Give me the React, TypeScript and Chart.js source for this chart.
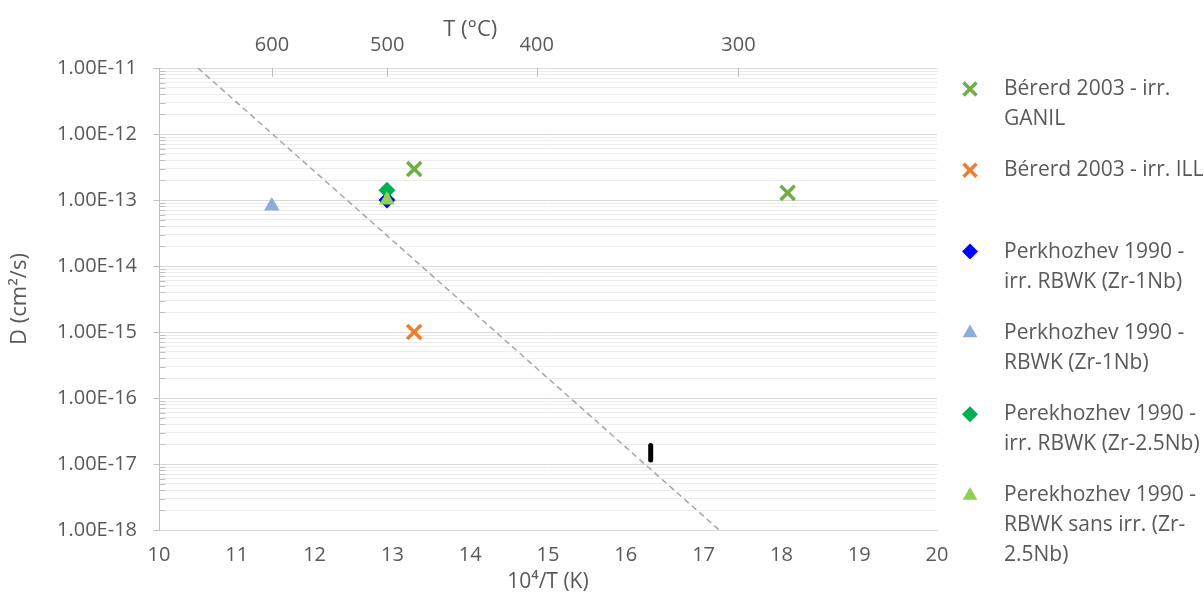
import React, { useEffect, useRef } from 'react';
import { Chart, registerables } from 'chart.js';

Chart.register(...registerables);

const FONT = '"Open Sans", "DejaVu Sans", sans-serif';
const TEXT = '#595959';

// x = 10^4/T (K^-1), y = D (cm²/s)
const ganilX = [13.28, 18.08];
const ganilY = [2.95e-13, 1.28e-13];
const illX = [13.28];
const illY = [1.0e-15];
const perkIrr1NbX = [12.93];
const perkIrr1NbY = [1.0e-13];
const perk1NbX = [11.45];
const perk1NbY = [8.1e-14];
const perekIrr25NbX = [12.93];
const perekIrr25NbY = [1.4e-13];
const perek25NbX = [12.93];
const perek25NbY = [1.0e-13];
const guideX = [10.5, 17.2];
const guideY = [1e-11, 1e-18];
const barX = [16.32, 16.32];
const barY = [1.15e-17, 1.9e-17];

const xTicks = [10, 11, 12, 13, 14, 15, 16, 17, 18, 19, 20];
const topTicksC = [600, 500, 400, 300];
const yDecades = [-18, -17, -16, -15, -14, -13, -12, -11];
const yTickLabels = ['1.00E-18', '1.00E-17', '1.00E-16', '1.00E-15', '1.00E-14', '1.00E-13', '1.00E-12', '1.00E-11'];

const legendItems = [
  { lines: ['Bérerd 2003 - irr.', 'GANIL'], style: 'cross', color: '#70AD47' },
  { lines: ['Bérerd 2003 - irr. ILL'], style: 'cross', color: '#ED7D31' },
  { lines: ['Perkhozhev 1990 -', 'irr. RBWK (Zr-1Nb)'], style: 'diamond', color: '#0000FF' },
  { lines: ['Perkhozhev 1990 -', 'RBWK (Zr-1Nb)'], style: 'triangle', color: '#8FAADC' },
  { lines: ['Perekhozhev 1990 -', 'irr. RBWK (Zr-2.5Nb)'], style: 'diamond', color: '#00B050' },
  { lines: ['Perekhozhev 1990 -', 'RBWK sans irr. (Zr-', '2.5Nb)'], style: 'triangle', color: '#92D050' },
];

const pts = (xs: number[], ys: number[]) => xs.map((x, i) => ({ x, y: ys[i] }));
const isMajor = (v: number) => {
  const e = Math.log10(v);
  return Math.abs(e - Math.round(e)) < 1e-6;
};

const extrasPlugin = {
  id: 'extras',
  afterDraw(chart: any) {
    const { ctx, chartArea, scales } = chart;
    ctx.save();
    // top axis tick marks (pointing into the plot)
    ctx.strokeStyle = '#BFBFBF';
    ctx.lineWidth = 1;
    scales.xTop.ticks.forEach((t: any) => {
      const px = Math.round(scales.xTop.getPixelForValue(t.value)) + 0.5;
      ctx.beginPath();
      ctx.moveTo(px, chartArea.top);
      ctx.lineTo(px, chartArea.top + 9);
      ctx.stroke();
    });
    // y axis tick marks
    const ax = Math.round(chartArea.left) + 0.5;
    scales.y.ticks.forEach((t: any) => {
      const py = Math.round(scales.y.getPixelForValue(t.value)) + 0.5;
      ctx.beginPath();
      if (isMajor(t.value)) {
        ctx.moveTo(ax - 6, py);
        ctx.lineTo(ax, py);
      } else {
        ctx.moveTo(ax, py);
        ctx.lineTo(ax + 6, py);
      }
      ctx.stroke();
    });
    // top axis title
    ctx.fillStyle = TEXT;
    ctx.font = `22px ${FONT}`;
    ctx.textAlign = 'center';
    ctx.textBaseline = 'middle';
    ctx.fillText('T (°C)', chartArea.left + 0.4 * (chartArea.right - chartArea.left), 30);

    // legend
    const mx = 970;
    const tx = 1004;
    const y0 = 89;
    const step = 81.3;
    const lh = 30;
    legendItems.forEach((it, i) => {
      const y = y0 + i * step;
      ctx.fillStyle = it.color;
      ctx.strokeStyle = it.color;
      if (it.style === 'cross') {
        const r = 6.5;
        ctx.lineWidth = 3.5;
        ctx.beginPath();
        ctx.moveTo(mx - r, y - r);
        ctx.lineTo(mx + r, y + r);
        ctx.moveTo(mx + r, y - r);
        ctx.lineTo(mx - r, y + r);
        ctx.stroke();
      } else if (it.style === 'diamond') {
        const r = 8;
        ctx.beginPath();
        ctx.moveTo(mx - r, y);
        ctx.lineTo(mx, y - r);
        ctx.lineTo(mx + r, y);
        ctx.lineTo(mx, y + r);
        ctx.closePath();
        ctx.fill();
      } else {
        const r = 8.5;
        ctx.beginPath();
        ctx.moveTo(mx, y - r);
        ctx.lineTo(mx + r * 0.866, y + r * 0.5);
        ctx.lineTo(mx - r * 0.866, y + r * 0.5);
        ctx.closePath();
        ctx.fill();
      }
      ctx.fillStyle = TEXT;
      ctx.font = `21px ${FONT}`;
      ctx.textAlign = 'left';
      ctx.textBaseline = 'middle';
      it.lines.forEach((ln, j) => ctx.fillText(ln, tx, y + j * lh));
    });
    ctx.restore();
  },
};

export default function App() {
  const ref = useRef<HTMLCanvasElement>(null);
  useEffect(() => {
    if (!ref.current) return;
    const chart = new Chart(ref.current, {
      type: 'scatter',
      data: {
        datasets: [
          {
            label: 'guide',
            data: pts(guideX, guideY),
            showLine: true,
            borderColor: '#A6A6A6',
            borderWidth: 1.5,
            borderDash: [6, 4],
            pointRadius: 0,
            order: 10,
          },
          {
            label: 'bar',
            data: pts(barX, barY),
            showLine: true,
            borderColor: '#000000',
            borderWidth: 5,
            borderCapStyle: 'round',
            pointRadius: 0,
            order: 9,
          },
          {
            label: 'Bérerd 2003 - irr. GANIL',
            data: pts(ganilX, ganilY),
            pointStyle: 'crossRot',
            pointRadius: 10,
            borderWidth: 3.5,
            borderColor: '#70AD47',
            backgroundColor: '#70AD47',
            order: 5,
          },
          {
            label: 'Bérerd 2003 - irr. ILL',
            data: pts(illX, illY),
            pointStyle: 'crossRot',
            pointRadius: 10,
            borderWidth: 3.5,
            borderColor: '#ED7D31',
            backgroundColor: '#ED7D31',
            order: 5,
          },
          {
            label: 'Perkhozhev 1990 - irr. RBWK (Zr-1Nb)',
            data: pts(perkIrr1NbX, perkIrr1NbY),
            pointStyle: 'rectRot',
            pointRadius: 8.5,
            borderWidth: 0,
            borderColor: '#0000FF',
            backgroundColor: '#0000FF',
            order: 3,
          },
          {
            label: 'Perkhozhev 1990 - RBWK (Zr-1Nb)',
            data: pts(perk1NbX, perk1NbY),
            pointStyle: 'triangle',
            pointRadius: 9,
            borderWidth: 0,
            borderColor: '#8FAADC',
            backgroundColor: '#8FAADC',
            order: 4,
          },
          {
            label: 'Perekhozhev 1990 - irr. RBWK (Zr-2.5Nb)',
            data: pts(perekIrr25NbX, perekIrr25NbY),
            pointStyle: 'rectRot',
            pointRadius: 8.5,
            borderWidth: 0,
            borderColor: '#00B050',
            backgroundColor: '#00B050',
            order: 2,
          },
          {
            label: 'Perekhozhev 1990 - RBWK sans irr. (Zr-2.5Nb)',
            data: pts(perek25NbX, perek25NbY),
            pointStyle: 'triangle',
            pointRadius: 9,
            borderWidth: 0,
            borderColor: '#92D050',
            backgroundColor: '#92D050',
            order: 1,
          },
        ],
      },
      options: {
        responsive: false,
        animation: false,
        layout: { padding: { left: 0, right: 267, top: 0, bottom: 0 } },
        plugins: { legend: { display: false }, tooltip: { enabled: false } },
        scales: {
          x: {
            type: 'linear',
            position: 'bottom',
            min: 10,
            max: 20,
            afterBuildTicks: (s: any) => {
              s.ticks = xTicks.map((v) => ({ value: v }));
            },
            afterFit: (s: any) => {
              s.height = 66;
            },
            grid: { display: false, drawTicks: false },
            border: { display: true, color: '#D9D9D9', width: 1 },
            ticks: {
              color: TEXT,
              font: { family: FONT, size: 20 },
              padding: 13,
              maxRotation: 0,
              autoSkip: false,
            },
            title: {
              display: true,
              text: '10⁴/T (K)',
              color: TEXT,
              font: { family: FONT, size: 21 },
              padding: { top: 0, bottom: 1 },
            },
          },
          xTop: {
            type: 'linear',
            position: 'top',
            min: 10,
            max: 20,
            afterBuildTicks: (s: any) => {
              s.ticks = topTicksC.map((c) => ({ value: 1e4 / (c + 273.15) }));
            },
            afterFit: (s: any) => {
              s.height = 68;
            },
            grid: { display: false, drawTicks: false },
            border: { display: false },
            ticks: {
              color: TEXT,
              font: { family: FONT, size: 20 },
              padding: 11,
              maxRotation: 0,
              autoSkip: false,
              callback: (_v: any, i: number) => String(topTicksC[i]),
            },
          },
          y: {
            type: 'logarithmic',
            position: 'left',
            min: 1e-18,
            max: 1e-11,
            afterBuildTicks: (s: any) => {
              const t: any[] = [];
              yDecades.forEach((d, i) => {
                if (i === yDecades.length - 1) {
                  t.push({ value: Math.pow(10, d) });
                } else {
                  for (let k = 1; k <= 9; k++) t.push({ value: k * Math.pow(10, d) });
                }
              });
              s.ticks = t;
            },
            afterFit: (s: any) => {
              s.width = 159;
            },
            grid: {
              drawTicks: false,
              lineWidth: 1,
              color: (c: any) => (c.tick && isMajor(c.tick.value) ? '#D9D9D9' : '#EDEDED'),
            },
            border: { display: true, color: '#BFBFBF', width: 1 },
            ticks: {
              color: TEXT,
              font: { family: FONT, size: 20 },
              padding: 22,
              autoSkip: false,
              callback: (v: any) => {
                const val = Number(v);
                if (!isMajor(val)) return '';
                const idx = yDecades.indexOf(Math.round(Math.log10(val)));
                return idx >= 0 ? yTickLabels[idx] : '';
              },
            },
            title: {
              display: true,
              text: 'D (cm²/s)',
              color: TEXT,
              font: { family: FONT, size: 22 },
              padding: { top: 7, bottom: 0 },
            },
          },
        },
      },
      plugins: [extrasPlugin],
    } as any);
    return () => chart.destroy();
  }, []);
  return (
    <div style={{ position: 'absolute', left: 0, top: 0, width: 1204, height: 596, background: '#fff' }}>
      <canvas ref={ref} width={1204} height={596} style={{ display: 'block' }} />
    </div>
  );
}
